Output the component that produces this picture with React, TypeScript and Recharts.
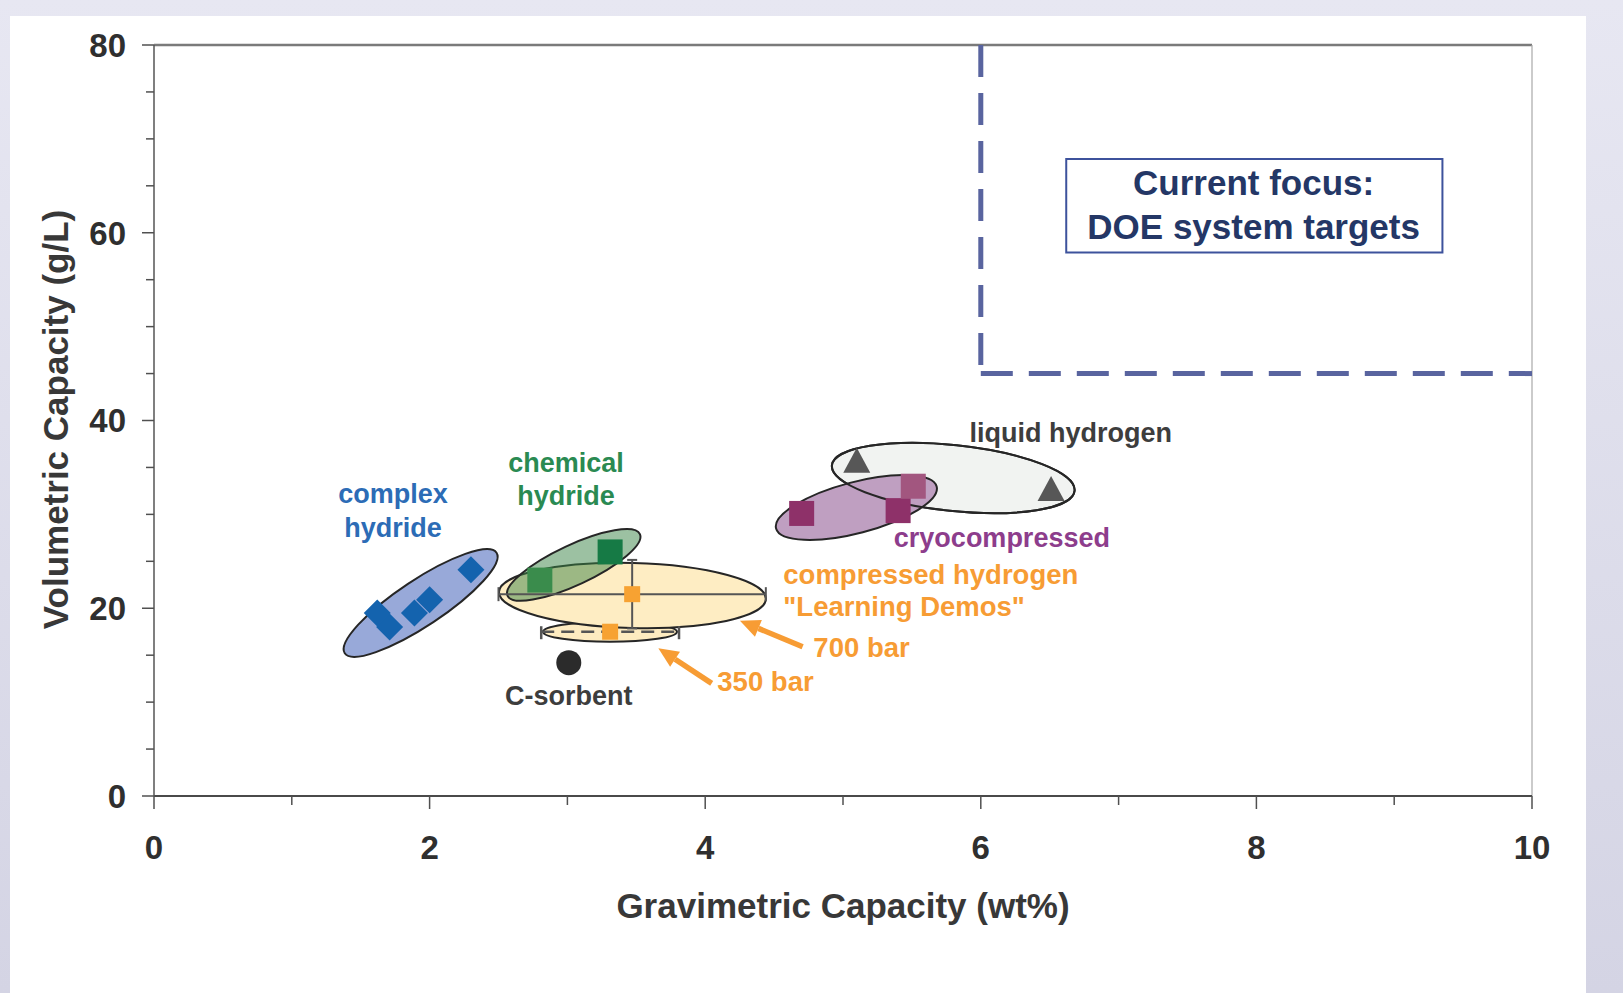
import React from 'react';
import {
  ScatterChart, Scatter, XAxis, YAxis, ReferenceLine, ReferenceArea, ErrorBar, Cell, Label,
} from 'recharts';

const FONT = '"Liberation Sans", Arial, Helvetica, sans-serif';

// storage systems: gravimetric capacity (wt%) vs volumetric capacity (g/L)
const complexHydride = [
  { x: 1.62, y: 19.5 },
  { x: 1.71, y: 18.0 },
  { x: 1.89, y: 19.5 },
  { x: 2.0, y: 20.9 },
  { x: 2.3, y: 24.1 },
];
const chemicalHydride = [
  { x: 2.8, y: 23.0 },
  { x: 3.31, y: 26.0 },
];
const cryoCompressed = [
  { x: 4.7, y: 30.1 },
  { x: 5.4, y: 30.4 },
  { x: 5.51, y: 33.0 },
];
const liquidHydrogen = [
  { x: 5.1, y: 35.6 },
  { x: 6.51, y: 32.6 },
];
const cSorbent = [{ x: 3.01, y: 14.2 }];
// learning demos, with spread as error bars
const demo700 = [{ x: 3.47, y: 21.5, ex: 0.97, ey: 3.65 }];
const demo350 = [{ x: 3.31, y: 17.5, ex: 0.5 }];

// the grouping ellipses (centres)
const regions = [
  { group: 'liquid', x: 5.8, y: 33.87 },
  { group: 'cryo', x: 5.097, y: 30.73 },
  { group: 'liquidEdge', x: 5.8, y: 33.87 },
  { group: 'complex', x: 1.935, y: 20.56 },
  { group: 'bar350', x: 3.309, y: 17.5 },
  { group: 'bar700', x: 3.472, y: 21.36 },
  { group: 'chemical', x: 3.046, y: 24.61 },
];

// DOE target corner
const targetX = 6;
const targetY = 45;

const notes = [
  { group: 'complex', text: 'complex', x: 1.734, y: 31.18 },
  { group: 'complex', text: 'hydride', x: 1.734, y: 27.62 },
  { group: 'chemical', text: 'chemical', x: 2.99, y: 34.48 },
  { group: 'chemical', text: 'hydride', x: 2.99, y: 31.0 },
  { group: 'sorbent', text: 'C-sorbent', x: 3.01, y: 9.69 },
  { group: 'liquid', text: 'liquid hydrogen', x: 6.653, y: 37.74 },
  { group: 'cryo', text: 'cryocompressed', x: 6.153, y: 26.56 },
  { group: 'compressed', text: 'compressed hydrogen', x: 4.567, y: 22.55 },
  { group: 'compressed', text: '"Learning Demos"', x: 4.567, y: 19.17 },
  { group: 'compressed', text: '700 bar', x: 4.785, y: 14.84 },
  { group: 'compressed', text: '350 bar', x: 4.088, y: 11.22 },
  { group: 'focus', text: 'Current focus:', x: 7.98, y: 64.06 },
  { group: 'focus', text: 'DOE system targets', x: 7.98, y: 59.33 },
];

const arrows = [
  { from: { x: 4.707, y: 15.9 }, to: { x: 4.252, y: 18.67 } },
  { from: { x: 4.047, y: 12.0 }, to: { x: 3.66, y: 15.73 } },
];

const xTicks = [0, 1, 2, 3, 4, 5, 6, 7, 8, 9, 10];
const yTicks = [0, 5, 10, 15, 20, 25, 30, 35, 40, 45, 50, 55, 60, 65, 70, 75, 80];

const ORANGE = '#f79c34';

const ELLIPSE_STYLE: Record<string, any> = {
  liquid: { rx: 122, ry: 33, angle: 6, fill: '#f1f3f1', opacity: 1 },
  liquidEdge: { rx: 122, ry: 33, angle: 6, fill: 'none', opacity: 0 },
  cryo: { rx: 83, ry: 25.5, angle: -14.7, fill: '#bf9fc1', opacity: 1 },
  complex: { rx: 91, ry: 23, angle: -33.5, fill: '#98a9d9', opacity: 1 },
  bar350: { rx: 67, ry: 10, angle: 0, fill: '#fdebc0', opacity: 1 },
  bar700: { rx: 133.5, ry: 32.5, angle: 1.5, fill: '#feedc3', opacity: 1 },
  chemical: { rx: 73, ry: 20, angle: -25, fill: '#3a8346', opacity: 0.5 },
};

const NOTE_STYLE: Record<string, any> = {
  complex: { color: '#2c6cb6', anchor: 'middle', size: 27 },
  chemical: { color: '#2a8a52', anchor: 'middle', size: 27 },
  sorbent: { color: '#3d3d3d', anchor: 'middle', size: 27 },
  liquid: { color: '#3d3d3d', anchor: 'middle', size: 27 },
  cryo: { color: '#8d3d8c', anchor: 'middle', size: 27 },
  compressed: { color: ORANGE, anchor: 'start', size: 27.5 },
  focus: { color: '#243766', anchor: 'middle', size: 35 },
};

const EllipseShape = (props: any) => {
  const { cx, cy, payload } = props;
  const s = ELLIPSE_STYLE[payload.group];
  return (
    <ellipse
      cx={cx} cy={cy} rx={s.rx} ry={s.ry}
      transform={`rotate(${s.angle} ${cx} ${cy})`}
      fill={s.fill} fillOpacity={s.opacity}
      stroke="#262626" strokeWidth={2}
    />
  );
};

const Diamond = ({ cx, cy, fill }: any) => (
  <polygon points={`${cx},${cy - 13.5} ${cx + 13.5},${cy} ${cx},${cy + 13.5} ${cx - 13.5},${cy}`} fill={fill} />
);
const Square = ({ cx, cy, fill }: any) => <rect x={cx - 12.5} y={cy - 12.5} width={25} height={25} fill={fill} />;
const SmallSquare = ({ cx, cy, fill }: any) => <rect x={cx - 8} y={cy - 8} width={16} height={16} fill={fill} />;
const Triangle = ({ cx, cy, fill }: any) => (
  <polygon points={`${cx},${cy - 14} ${cx + 13.5},${cy + 11} ${cx - 13.5},${cy + 11}`} fill={fill} />
);
const Dot = ({ cx, cy, fill }: any) => <circle cx={cx} cy={cy} r={12.5} fill={fill} />;

const NoteShape = ({ cx, cy, payload }: any) => {
  const s = NOTE_STYLE[payload.group];
  return (
    <text x={cx} y={cy} textAnchor={s.anchor} fill={s.color} fontSize={s.size}
      fontWeight="bold" fontFamily={FONT}>
      {payload.text}
    </text>
  );
};

const ArrowShape = (p: any) => {
  const x1 = Number(p.x1), y1 = Number(p.y1), x2 = Number(p.x2), y2 = Number(p.y2);
  const len = Math.hypot(x2 - x1, y2 - y1) || 1;
  const ux = (x2 - x1) / len, uy = (y2 - y1) / len;
  const bx = x2 - ux * 20, by = y2 - uy * 20;
  const nx = -uy * 9, ny = ux * 9;
  return (
    <g>
      <line x1={x1} y1={y1} x2={bx} y2={by} stroke={ORANGE} strokeWidth={5.5} />
      <polygon points={`${x2},${y2} ${bx + nx},${by + ny} ${bx - nx},${by - ny}`} fill={ORANGE} />
    </g>
  );
};

const XTick = ({ x, y, payload }: any) => {
  const v = payload.value;
  const major = v % 2 === 0;
  return (
    <g>
      <line x1={x} x2={x} y1={y} y2={y + (major ? 13 : 9)} stroke="#505050" strokeWidth={1.5} />
      {major && (
        <text x={x} y={y + 63} textAnchor="middle" fontSize={33} fontWeight="bold" fill="#2f2f2f" fontFamily={FONT}>
          {v}
        </text>
      )}
    </g>
  );
};

const YTick = ({ x, y, payload }: any) => {
  const v = payload.value;
  const major = v % 20 === 0;
  return (
    <g>
      <line x1={x} x2={x - (major ? 12 : 8)} y1={y} y2={y} stroke="#505050" strokeWidth={1.5} />
      {major && (
        <text x={x - 28} y={y} dy="0.36em" textAnchor="end" fontSize={33} fontWeight="bold" fill="#2f2f2f" fontFamily={FONT}>
          {v}
        </text>
      )}
    </g>
  );
};

export default function App() {
  return (
    <div style={{
      position: 'absolute', left: 0, top: 0, width: 1623, height: 993, overflow: 'hidden',
      background: 'linear-gradient(180deg, #e7e7f2 0%, #d4d4e4 100%)', fontFamily: FONT,
    }}>
      <div style={{ position: 'absolute', left: 10, top: 16, width: 1576, height: 977, background: '#fff' }} />
      <div style={{ position: 'absolute', left: 0, top: 0 }}>
        <ScatterChart width={1623} height={993} margin={{ top: 45, right: 91, bottom: 77, left: 54 }}>
          <XAxis
            type="number" dataKey="x" domain={[0, 10]} ticks={xTicks} interval={0}
            height={120} tickLine={false} tickSize={0} tickMargin={0} tick={<XTick />}
            axisLine={{ stroke: '#4a4a4a', strokeWidth: 2 }}
          >
            <Label
              content={(props: any) => {
                const vb = props.viewBox || {};
                return (
                  <text x={vb.x + vb.width / 2} y={vb.y + 122} textAnchor="middle" fontSize={35}
                    fontWeight="bold" fill="#383838" fontFamily={FONT}>
                    Gravimetric Capacity (wt%)
                  </text>
                );
              }}
            />
          </XAxis>
          <YAxis
            type="number" dataKey="y" domain={[0, 80]} ticks={yTicks} interval={0}
            width={100} tickLine={false} tickSize={0} tickMargin={0} tick={<YTick />}
            axisLine={{ stroke: '#555', strokeWidth: 1.5 }}
          >
            <Label
              content={(props: any) => {
                const vb = props.viewBox || {};
                const lx = vb.x + 14;
                const ly = vb.y + vb.height / 2 - 1;
                return (
                  <text x={lx} y={ly} transform={`rotate(-90 ${lx} ${ly})`} textAnchor="middle" fontSize={35}
                    fontWeight="bold" fill="#383838" fontFamily={FONT}>
                    Volumetric Capacity (g/L)
                  </text>
                );
              }}
            />
          </YAxis>

          <ReferenceLine y={80} stroke="#7a7a7a" strokeWidth={2.5} />
          <ReferenceLine x={10} stroke="#a8a8a8" strokeWidth={1.2} />

          <ReferenceLine
            segment={[{ x: targetX, y: 80 }, { x: targetX, y: targetY }]}
            stroke="#59649f" strokeWidth={5} strokeDasharray="32 16"
          />
          <ReferenceLine
            segment={[{ x: targetX, y: targetY }, { x: 10, y: targetY }]}
            stroke="#59649f" strokeWidth={5} strokeDasharray="32 16"
          />
          <ReferenceArea x1={6.62} x2={9.35} y1={57.9} y2={67.85} fill="#fff" fillOpacity={1}
            stroke="#3d529c" strokeWidth={2} />

          <Scatter data={regions} shape={<EllipseShape />} isAnimationActive={false} />

          <Scatter data={complexHydride} fill="#1463ae" shape={<Diamond />} isAnimationActive={false} />
          <Scatter data={chemicalHydride} fill="#167a45" shape={<Square />} isAnimationActive={false}>
            <Cell fill="#3a8c4c" />
            <Cell fill="#167a45" />
          </Scatter>
          <Scatter data={cryoCompressed} fill="#8e3169" shape={<Square />} isAnimationActive={false}>
            <Cell fill="#8e3169" />
            <Cell fill="#8e3169" />
            <Cell fill="#a2567f" />
          </Scatter>
          <Scatter data={liquidHydrogen} fill="#575757" shape={<Triangle />} isAnimationActive={false} />
          <Scatter data={cSorbent} fill="#2b2b2b" shape={<Dot />} isAnimationActive={false} />

          <Scatter data={demo700} fill="#f7a232" shape={<SmallSquare />} isAnimationActive={false} zIndex={1200}>
            <ErrorBar dataKey="ex" direction="x" width={7} stroke="#555" strokeWidth={2} zIndex={1100} />
            <ErrorBar dataKey="ey" direction="y" width={5} stroke="#555" strokeWidth={2} zIndex={1100} />
          </Scatter>
          <Scatter data={demo350} fill="#f7a232" shape={<SmallSquare />} isAnimationActive={false} zIndex={1200}>
            <ErrorBar dataKey="ex" direction="x" width={7.5} stroke="#555" strokeWidth={2.5}
              strokeDasharray="13 7" zIndex={1100} />
          </Scatter>

          {arrows.map((a, i) => (
            <ReferenceLine key={i} segment={[a.from, a.to]} shape={ArrowShape} />
          ))}

          <Scatter data={notes} shape={<NoteShape />} isAnimationActive={false} zIndex={1300} />
        </ScatterChart>
      </div>
    </div>
  );
}
